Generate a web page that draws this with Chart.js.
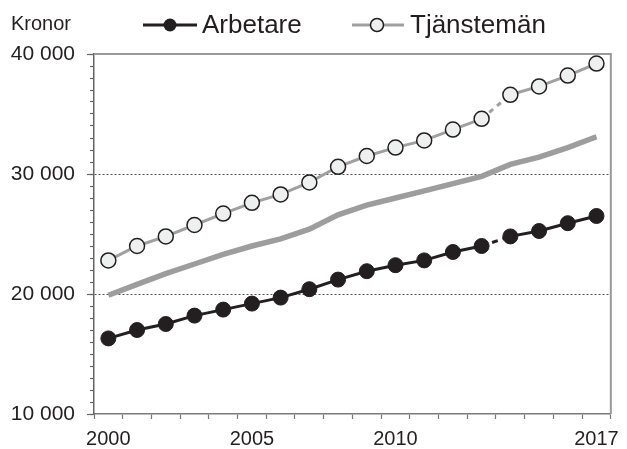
<!DOCTYPE html>
<html>
<head>
<meta charset="utf-8">
<script src="https://cdn.jsdelivr.net/npm/chart.js@4.4.1/dist/chart.umd.min.js"></script>
<style>
html,body{margin:0;padding:0;background:#fff;}
#wrap{position:relative;width:627px;height:449px;}
</style>
</head>
<body>
<div id="wrap"><canvas id="c" width="627" height="449"></canvas></div>
<script>
const years = ['2000','2001','2002','2003','2004','2005','2006','2007','2008','2009','2010','2011','2012','2013','2014','2015','2016','2017'];
const shownYearLabels = ['2000','2005','2010','2017'];
const arbetare = [16300,17000,17500,18200,18700,19200,19700,20400,21200,21900,22400,22800,23500,24000,24800,25250,25900,26500];
const tjansteman = [22800,24000,24800,25750,26700,27600,28300,29300,30600,31500,32200,32800,33700,34600,36600,37300,38200,39200];
const samtliga = [19900,20800,21700,22500,23300,24000,24600,25400,26600,27400,28000,28600,29200,29800,30800,31400,32200,33100];
const seriesNames = ['Arbetare','Tjänstemän'];
const yAxisTitle = 'Kronor';
const yMin = 10000, yMax = 40000, yMinorStep = 1000, yMajorStep = 10000;
const gridValues = [20000, 30000];
const breakIndex = 13;

const DARK = '#231f20';
const GREY = '#a0a0a0';
const OPEN = '#eef0f0';
const FONT = '"Liberation Sans", Arial, Helvetica, sans-serif';

function fmt(v){ return String(v).replace(/\B(?=(\d{3})+(?!\d))/g, ' '); }

const framePlugin = {
  id: 'frame',
  afterDraw(chart){
    const {ctx, chartArea: a} = chart;
    const ys = chart.scales.y;
    ctx.save();
    ctx.strokeStyle = '#9a9a9a';
    ctx.lineWidth = 2;
    ctx.beginPath();
    ctx.moveTo(a.left, a.top);
    ctx.lineTo(a.right, a.top);
    ctx.lineTo(a.right, a.bottom);
    ctx.stroke();
    // longer major ticks on the y axis
    ctx.strokeStyle = '#666'; ctx.lineWidth = 1.2;
    for (let v = yMin; v <= yMax; v += yMajorStep) {
      const py = Math.round(ys.getPixelForValue(v)) + 0.5;
      ctx.beginPath(); ctx.moveTo(a.left - 7, py); ctx.lineTo(a.left, py); ctx.stroke();
    }
    // legend + title
    ctx.fillStyle = DARK;
    ctx.textBaseline = 'alphabetic';
    ctx.font = '20px ' + FONT;
    ctx.fillText(yAxisTitle, 11, 30);
    const ly = 25;
    ctx.strokeStyle = DARK; ctx.lineWidth = 3;
    ctx.beginPath(); ctx.moveTo(143, ly); ctx.lineTo(197, ly); ctx.stroke();
    ctx.beginPath(); ctx.arc(170, ly, 6.5, 0, Math.PI*2); ctx.fillStyle = DARK; ctx.fill();
    ctx.font = '26px ' + FONT;
    ctx.textBaseline = 'middle';
    ctx.fillText(seriesNames[0], 202, ly + 1);
    ctx.strokeStyle = GREY; ctx.lineWidth = 3;
    ctx.beginPath(); ctx.moveTo(352, ly); ctx.lineTo(404, ly); ctx.stroke();
    ctx.beginPath(); ctx.arc(377, ly, 6.5, 0, Math.PI*2);
    ctx.fillStyle = OPEN; ctx.fill();
    ctx.strokeStyle = DARK; ctx.lineWidth = 1.5; ctx.stroke();
    ctx.fillStyle = DARK;
    ctx.fillText(seriesNames[1], 410, ly + 1);
    ctx.restore();
  }
};

const dashSeg = (pattern) => ({
  borderDash: c => c.p0DataIndex === breakIndex ? pattern : undefined
});

new Chart(document.getElementById('c'), {
  type: 'line',
  data: {
    labels: years,
    datasets: [
      {
        label: 'Samtliga',
        data: samtliga,
        borderColor: '#9d9d9d',
        borderWidth: 5.5,
        pointRadius: 0,
        tension: 0,
        order: 3
      },
      {
        label: seriesNames[1],
        data: tjansteman,
        borderColor: GREY,
        borderWidth: 3,
        pointRadius: 7.5,
        pointBackgroundColor: OPEN,
        pointBorderColor: DARK,
        pointBorderWidth: 1.5,
        tension: 0,
        segment: dashSeg([5,5]),
        order: 2
      },
      {
        label: seriesNames[0],
        data: arbetare,
        borderColor: DARK,
        borderWidth: 3,
        pointRadius: 7.5,
        pointBackgroundColor: DARK,
        pointBorderColor: DARK,
        pointBorderWidth: 1,
        tension: 0,
        segment: dashSeg([6,5]),
        order: 1
      }
    ]
  },
  options: {
    responsive: false,
    animation: false,
    layout: { padding: { top: 54, right: 10, left: 0, bottom: 0 } },
    plugins: { legend: { display: false }, tooltip: { enabled: false } },
    scales: {
      x: {
        type: 'category',
        offset: true,
        afterFit(s){ s.height = 35; },
        grid: { offset: true, drawOnChartArea: false, tickLength: 5, tickColor: '#777', tickWidth: 1.2 },
        border: { color: '#7a7a7a', width: 1.5 },
        ticks: {
          autoSkip: false, maxRotation: 0, padding: 8,
          color: DARK, font: { family: FONT, size: 20 },
          callback(v, i){ const l = years[i]; return shownYearLabels.includes(l) ? l : ''; }
        }
      },
      y: {
        min: yMin, max: yMax,
        afterFit(s){ s.width = 94; },
        grid: {
          color: c => gridValues.includes(c.tick && c.tick.value) ? '#555' : 'rgba(0,0,0,0)',
          lineWidth: 1, tickLength: 4, tickColor: '#666', tickWidth: 1.2
        },
        border: { color: '#666', width: 1.5, dash: [2,2] },
        ticks: {
          stepSize: yMinorStep, autoSkip: false, padding: 15,
          color: DARK, font: { family: FONT, size: 21 },
          callback(v){ return v % yMajorStep === 0 ? fmt(v) : ''; }
        }
      }
    }
  },
  plugins: [framePlugin]
});
</script>
</body>
</html>
